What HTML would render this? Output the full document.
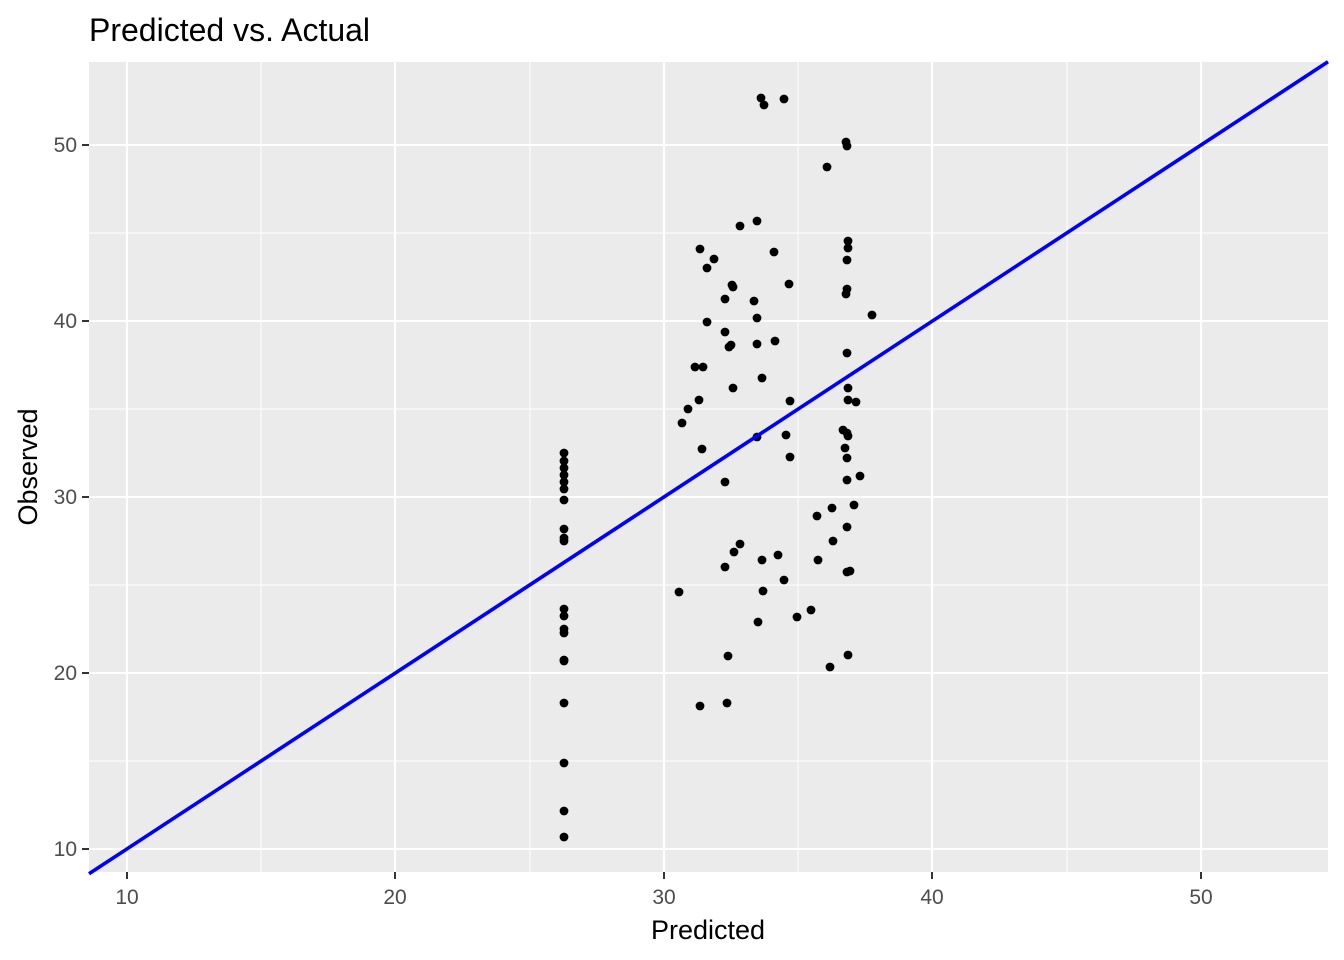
<!DOCTYPE html>
<html><head><meta charset="utf-8"><style>body{margin:0;background:#fff}svg{display:block}</style></head><body>
<svg width="1344" height="960" xmlns="http://www.w3.org/2000/svg" font-family="Liberation Sans, sans-serif">
<rect width="1344" height="960" fill="#fff"/>
<text x="89" y="41" font-size="32" fill="#000">Predicted vs. Actual</text>
<rect x="89" y="62" width="1239" height="810" fill="#ebebeb"/>
<g stroke="#fff" stroke-width="1">
<line x1="261" y1="62" x2="261" y2="872"/><line x1="530" y1="62" x2="530" y2="872"/><line x1="798" y1="62" x2="798" y2="872"/><line x1="1067" y1="62" x2="1067" y2="872"/>
<line x1="89" y1="233" x2="1328" y2="233"/><line x1="89" y1="409" x2="1328" y2="409"/><line x1="89" y1="585" x2="1328" y2="585"/><line x1="89" y1="761" x2="1328" y2="761"/>
</g>
<g stroke="#fff" stroke-width="2.1">
<line x1="127" y1="62" x2="127" y2="872"/><line x1="395" y1="62" x2="395" y2="872"/><line x1="664" y1="62" x2="664" y2="872"/><line x1="932" y1="62" x2="932" y2="872"/><line x1="1201" y1="62" x2="1201" y2="872"/>
<line x1="89" y1="145" x2="1328" y2="145"/><line x1="89" y1="321" x2="1328" y2="321"/><line x1="89" y1="497" x2="1328" y2="497"/><line x1="89" y1="673" x2="1328" y2="673"/><line x1="89" y1="849" x2="1328" y2="849"/>
</g>
<g fill="#000">
<circle cx="564" cy="453" r="4.4"/><circle cx="564" cy="461" r="4.4"/><circle cx="564" cy="468" r="4.4"/><circle cx="564" cy="475" r="4.4"/><circle cx="564" cy="482" r="4.4"/><circle cx="564" cy="489" r="4.4"/><circle cx="564" cy="500" r="4.4"/><circle cx="564" cy="529" r="4.4"/><circle cx="564" cy="538" r="4.4"/><circle cx="564" cy="541" r="4.4"/><circle cx="564" cy="609" r="4.4"/><circle cx="564" cy="616" r="4.4"/><circle cx="564" cy="629" r="4.4"/><circle cx="564" cy="633" r="4.4"/><circle cx="564" cy="660" r="4.4"/><circle cx="564" cy="661" r="4.4"/><circle cx="564" cy="703" r="4.4"/><circle cx="564" cy="763" r="4.4"/><circle cx="564" cy="811" r="4.4"/><circle cx="564" cy="837" r="4.4"/>
<circle cx="679" cy="592" r="4.4"/><circle cx="682" cy="423" r="4.4"/><circle cx="688" cy="409" r="4.4"/><circle cx="695" cy="367" r="4.4"/><circle cx="700" cy="249" r="4.4"/><circle cx="703" cy="367" r="4.4"/><circle cx="699" cy="400" r="4.4"/><circle cx="702" cy="449" r="4.4"/><circle cx="700" cy="706" r="4.4"/><circle cx="707" cy="268" r="4.4"/><circle cx="707" cy="322" r="4.4"/><circle cx="714" cy="259" r="4.4"/><circle cx="725" cy="299" r="4.4"/><circle cx="725" cy="332" r="4.4"/><circle cx="725" cy="482" r="4.4"/><circle cx="725" cy="567" r="4.4"/><circle cx="727" cy="703" r="4.4"/><circle cx="728" cy="656" r="4.4"/><circle cx="729" cy="347" r="4.4"/><circle cx="731" cy="345" r="4.4"/><circle cx="732" cy="285" r="4.4"/><circle cx="733" cy="287" r="4.4"/><circle cx="733" cy="388" r="4.4"/><circle cx="734" cy="552" r="4.4"/><circle cx="740" cy="226" r="4.4"/><circle cx="740" cy="544" r="4.4"/><circle cx="754" cy="301" r="4.4"/><circle cx="757" cy="221" r="4.4"/><circle cx="757" cy="318" r="4.4"/><circle cx="757" cy="344" r="4.4"/><circle cx="757" cy="437" r="4.4"/><circle cx="758" cy="622" r="4.4"/><circle cx="761" cy="98" r="4.4"/><circle cx="764" cy="105" r="4.4"/><circle cx="762" cy="378" r="4.4"/><circle cx="762" cy="560" r="4.4"/><circle cx="763" cy="591" r="4.4"/><circle cx="774" cy="252" r="4.4"/><circle cx="775" cy="341" r="4.4"/><circle cx="778" cy="555" r="4.4"/><circle cx="784" cy="99" r="4.4"/><circle cx="784" cy="580" r="4.4"/><circle cx="786" cy="435" r="4.4"/><circle cx="789" cy="284" r="4.4"/><circle cx="790" cy="401" r="4.4"/><circle cx="790" cy="457" r="4.4"/><circle cx="797" cy="617" r="4.4"/><circle cx="811" cy="610" r="4.4"/><circle cx="817" cy="516" r="4.4"/><circle cx="818" cy="560" r="4.4"/><circle cx="827" cy="167" r="4.4"/><circle cx="830" cy="667" r="4.4"/><circle cx="832" cy="508" r="4.4"/><circle cx="833" cy="541" r="4.4"/><circle cx="843" cy="430" r="4.4"/><circle cx="845" cy="448" r="4.4"/><circle cx="846" cy="142" r="4.4"/><circle cx="847" cy="146" r="4.4"/><circle cx="848" cy="241" r="4.4"/><circle cx="848" cy="248" r="4.4"/><circle cx="847" cy="260" r="4.4"/><circle cx="847" cy="289" r="4.4"/><circle cx="846" cy="294" r="4.4"/><circle cx="847" cy="353" r="4.4"/><circle cx="848" cy="388" r="4.4"/><circle cx="848" cy="400" r="4.4"/><circle cx="847" cy="433" r="4.4"/><circle cx="848" cy="436" r="4.4"/><circle cx="847" cy="458" r="4.4"/><circle cx="847" cy="480" r="4.4"/><circle cx="847" cy="527" r="4.4"/><circle cx="847" cy="572" r="4.4"/><circle cx="850" cy="571" r="4.4"/><circle cx="848" cy="655" r="4.4"/><circle cx="854" cy="505" r="4.4"/><circle cx="856" cy="402" r="4.4"/><circle cx="860" cy="476" r="4.4"/><circle cx="872" cy="315" r="4.4"/>
</g>
<line x1="89" y1="873.8" x2="1328" y2="61.8" stroke="#0000ff" stroke-width="3.6"/>
<g stroke="#333" stroke-width="2">
<line x1="127" y1="872" x2="127" y2="879"/><line x1="395" y1="872" x2="395" y2="879"/><line x1="664" y1="872" x2="664" y2="879"/><line x1="932" y1="872" x2="932" y2="879"/><line x1="1201" y1="872" x2="1201" y2="879"/>
<line x1="82" y1="145" x2="89" y2="145"/><line x1="82" y1="321" x2="89" y2="321"/><line x1="82" y1="497" x2="89" y2="497"/><line x1="82" y1="673" x2="89" y2="673"/><line x1="82" y1="849" x2="89" y2="849"/>
</g>
<g fill="#4d4d4d" font-size="21" text-anchor="middle">
<text x="127" y="904">10</text><text x="395" y="904">20</text><text x="664" y="904">30</text><text x="932" y="904">40</text><text x="1201" y="904">50</text>
</g>
<g fill="#4d4d4d" font-size="21" text-anchor="end">
<text x="77" y="152">50</text><text x="77" y="328">40</text><text x="77" y="504">30</text><text x="77" y="680">20</text><text x="77" y="856">10</text>
</g>
<text x="708" y="939" font-size="27" text-anchor="middle" fill="#000">Predicted</text>
<text transform="translate(37,467) rotate(-90)" font-size="27" text-anchor="middle" fill="#000">Observed</text>
</svg>
</body></html>
